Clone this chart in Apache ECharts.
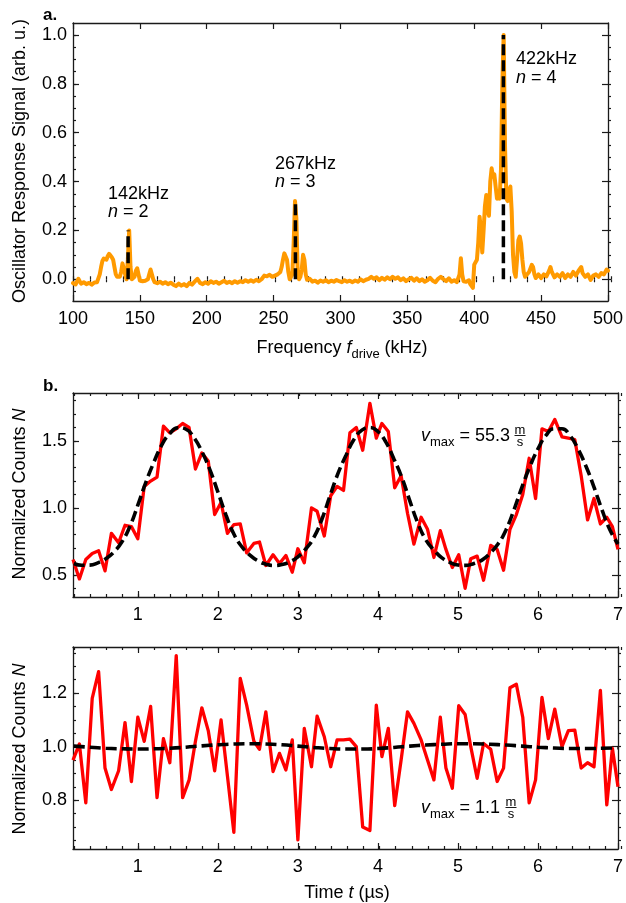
<!DOCTYPE html>
<html><head><meta charset="utf-8">
<script src="https://cdn.jsdelivr.net/npm/echarts@6/dist/echarts.min.js"></script>
<style>html,body{margin:0;padding:0;background:#fff}#c{width:626px;height:903px}</style>
</head><body><div id="c"></div>
<script>
const FONT = '"Liberation Sans", Arial, Helvetica, sans-serif';

// ---------- Panel a: oscillator response spectrum ----------
const freqKHz = [100,102,104,106,108,110,112,114,116,118,119,120,121,122,123,124,125,126,127,128,129,130,131,132,133,134,135,136,137,138,139,140,141,142,143,144,145,146,147,148,149,150,151,152,154,156,157,158,159,160,161,163,165,167,169,171,173,175,177,179,181,183,185,187,189,191,193,195,197,199,201,203,205,207,209,211,213,215,217,219,221,223,225,227,229,231,233,235,237,239,241,243,245,247,249,251,253,255,256,257,258,259,260,261,262,263,264,265,266,267,268,269,270,271,272,273,274,275,277,279,281,283,285,287,289,291,293,295,297,299,301,303,305,307,309,311,313,315,317,319,321,323,325,327,329,331,333,335,337,339,341,343,345,347,349,351,353,355,357,359,361,363,365,367,369,371,373,375,377,379,381,383,385,387,389,390,391,392,394,396,397,398,399,400,401,402,403,404,405,406,407,408,409,410,411,412,413,414,415,416,417,418,419,420,421,422,423,424,425,426,427,428,429,430,431,432,433,434,435,436,437,438,439,441,443,444,445,446,448,450,452,454,456,457,458,460,462,464,466,468,470,472,474,476,478,480,481,483,485,487,489,491,493,495,497,499,500];
const signal = [-0.016,-0.021,0.002,-0.018,-0.012,-0.020,-0.015,-0.022,-0.013,-0.012,-0.005,0.020,0.050,0.075,0.085,0.087,0.080,0.095,0.104,0.100,0.090,0.080,0.050,0.020,0.010,0.005,0.010,0.030,0.065,0.060,0.020,0.000,0.080,0.200,0.050,0.000,-0.005,0.010,0.035,0.045,0.020,-0.005,-0.012,-0.008,-0.006,0.000,0.020,0.040,0.035,0.000,-0.012,-0.016,-0.010,-0.018,-0.012,-0.020,-0.014,-0.022,-0.028,-0.018,-0.026,-0.020,-0.028,-0.015,-0.022,-0.010,0.002,-0.015,-0.020,-0.012,-0.018,-0.008,-0.015,-0.010,-0.018,-0.012,-0.006,-0.015,-0.010,-0.016,-0.008,-0.014,-0.008,-0.012,-0.004,-0.010,-0.004,-0.010,-0.002,-0.008,0.000,0.015,0.012,0.018,0.010,0.015,0.020,0.030,0.050,0.080,0.106,0.100,0.080,0.030,0.000,0.005,0.020,0.150,0.320,0.250,0.030,0.000,0.010,0.040,0.100,0.080,0.020,-0.002,0.002,-0.010,-0.006,-0.014,-0.005,-0.010,-0.004,-0.012,-0.006,-0.010,-0.003,-0.008,-0.012,-0.004,-0.010,-0.006,-0.012,-0.005,-0.010,0.000,-0.008,-0.002,0.002,0.010,0.002,0.008,-0.004,0.006,-0.002,0.008,0.000,0.010,0.002,0.008,-0.004,0.004,-0.008,0.000,0.006,-0.006,0.004,-0.008,0.000,-0.010,-0.004,0.006,-0.006,-0.012,0.002,0.010,0.000,-0.008,0.004,-0.010,-0.004,-0.012,0.020,0.086,0.020,-0.008,-0.010,-0.004,-0.020,-0.025,-0.035,0.060,0.065,0.080,0.150,0.256,0.200,0.110,0.200,0.300,0.345,0.280,0.260,0.400,0.454,0.420,0.430,0.380,0.330,0.360,0.330,0.450,0.800,1.000,0.550,0.330,0.320,0.360,0.380,0.280,0.100,0.030,0.010,0.080,0.160,0.175,0.147,0.080,0.030,0.010,0.012,0.030,0.059,0.050,0.020,0.005,0.020,0.005,0.020,0.012,0.035,0.050,0.030,0.008,0.020,0.010,0.025,0.005,0.020,0.010,0.030,0.015,0.035,0.050,0.025,0.010,0.020,-0.003,0.015,0.020,0.010,0.025,0.020,0.040,0.035];
const peakFreqs = [141.2, 266.3, 421.8];
const peakHeights = [0.20, 0.32, 1.00];
const peakLabels = ['142kHz', '267kHz', '422kHz'];
const peakOrders = ['2', '3', '4'];
const freqTicks = [100,150,200,250,300,350,400,450,500];
const signalTicks = [0.0,0.2,0.4,0.6,0.8,1.0];

// ---------- Panel b: normalized counts vs time ----------
const timeUs = [0.19,0.27,0.35,0.43,0.51,0.59,0.67,0.76,0.84,0.92,1.00,1.08,1.16,1.24,1.32,1.40,1.48,1.56,1.64,1.72,1.80,1.88,1.96,2.04,2.12,2.20,2.28,2.36,2.45,2.52,2.60,2.69,2.77,2.85,2.93,3.00,3.08,3.17,3.24,3.33,3.41,3.49,3.57,3.65,3.73,3.81,3.90,3.98,4.05,4.13,4.21,4.29,4.37,4.45,4.54,4.62,4.70,4.78,4.85,4.93,5.01,5.09,5.16,5.24,5.32,5.41,5.49,5.57,5.65,5.73,5.81,5.89,5.97,6.05,6.13,6.21,6.30,6.38,6.46,6.54,6.62,6.70,6.78,6.86,6.93,7.00];
const countsFast = [0.615,0.47,0.615,0.66,0.68,0.53,0.81,0.74,0.87,0.86,0.77,1.16,1.20,1.23,1.61,1.56,1.59,1.63,1.60,1.29,1.41,1.35,0.95,1.04,0.81,0.875,0.88,0.665,0.735,0.745,0.57,0.65,0.585,0.645,0.52,0.695,0.59,1.00,0.975,0.79,1.09,1.16,1.13,1.56,1.60,1.43,1.78,1.52,1.63,1.57,1.15,1.24,0.96,0.73,0.93,0.84,0.63,0.83,0.69,0.555,0.65,0.40,0.62,0.64,0.46,0.72,0.69,0.535,0.84,0.95,1.10,1.37,1.07,1.59,1.57,1.66,1.53,1.52,1.51,1.24,0.91,1.07,0.88,0.93,0.86,0.69];
const countsSlow = [0.95,1.01,0.79,1.18,1.28,0.92,0.84,0.91,1.09,0.87,1.11,1.02,1.15,0.81,1.03,0.94,1.34,0.81,0.875,1.02,1.145,1.06,0.91,1.10,0.89,0.68,1.255,1.155,1.02,0.99,1.13,0.907,0.975,0.913,1.025,0.652,1.068,0.925,1.114,1.037,0.925,1.025,1.025,1.028,1.0,0.70,0.687,1.155,0.963,1.068,0.78,0.95,1.13,1.087,1.025,0.95,0.876,1.11,0.92,0.845,1.153,1.12,1.0,0.882,1.012,0.99,0.87,0.92,1.22,1.233,1.11,0.79,0.876,1.184,1.03,1.14,1.0,1.06,1.062,0.92,0.94,0.925,1.21,0.783,0.994,0.85];
const fitTimeFast = [0.2,0.3,0.4,0.5,0.6,0.7,0.8,0.9,1.0,1.1,1.2,1.3,1.4,1.5,1.6,1.7,1.8,1.9,2.0,2.1,2.2,2.3,2.4,2.5,2.6,2.7,2.8,2.9,3.0,3.1,3.2,3.3,3.4,3.5,3.6,3.7,3.8,3.9,4.0,4.1,4.2,4.3,4.4,4.5,4.6,4.7,4.8,4.9,5.0,5.1,5.2,5.3,5.4,5.5,5.6,5.7,5.8,5.9,6.0,6.1,6.2,6.3,6.4,6.5,6.6,6.7,6.8,6.9,7.0];
const fitFast = [0.585,0.572,0.573,0.590,0.620,0.670,0.745,0.860,1.020,1.190,1.340,1.470,1.555,1.598,1.588,1.525,1.420,1.285,1.120,0.950,0.805,0.710,0.648,0.605,0.580,0.570,0.577,0.598,0.635,0.695,0.780,0.915,1.087,1.255,1.390,1.510,1.580,1.600,1.570,1.490,1.365,1.225,1.050,0.885,0.760,0.685,0.627,0.593,0.574,0.571,0.585,0.610,0.660,0.730,0.835,0.985,1.155,1.310,1.440,1.540,1.590,1.590,1.540,1.440,1.310,1.155,0.985,0.835,0.730];
const fitTimeSlow = [0.2,0.4,0.6,0.8,1.0,1.2,1.4,1.6,1.8,2.0,2.2,2.4,2.6,2.8,3.0,3.2,3.4,3.6,3.8,4.0,4.2,4.4,4.6,4.8,5.0,5.2,5.4,5.6,5.8,6.0,6.2,6.4,6.6,6.8,7.0];
const fitSlow = [1.002,0.998,0.994,0.992,0.991,0.992,0.994,0.998,1.003,1.007,1.010,1.011,1.010,1.007,1.002,0.997,0.993,0.991,0.991,0.993,0.997,1.002,1.006,1.009,1.011,1.011,1.009,1.006,1.002,0.998,0.995,0.993,0.993,0.994,0.996];
const timeTicks = [1,2,3,4,5,6,7];
const countsTicksFast = [0.5,1.0,1.5];
const countsTicksSlow = [0.8,1.0,1.2];

// ---------- helpers ----------
function stepValues(lo, hi, step) {
  const out = [];
  const start = Math.ceil(lo / step - 1e-9);
  for (let k = start; k * step <= hi + 1e-9; k++) out.push(+(k * step).toFixed(6));
  return out;
}
function pairs(xs, ys) { return xs.map((x, i) => [x, ys[i]]); }

const AXC = '#1a1a1a';
const panels = [
  { rect: {left: 73, top: 23, width: 538, height: 278}, x: [100, 500], y: [-0.089, 1.049],
    xMaj: freqTicks, xMinStep: 12.5, yMaj: signalTicks, yMinStep: 0.05, xFmt: v => String(v), yFmt: v => v.toFixed(1) },
  { rect: {left: 73, top: 393, width: 548, height: 204}, x: [0.19, 7.0], y: [0.335, 1.857],
    xMaj: timeTicks, xMinStep: 0.2, yMaj: countsTicksFast, yMinStep: 0.1, xFmt: v => String(v), yFmt: v => v.toFixed(1) },
  { rect: {left: 73, top: 647, width: 548, height: 202}, x: [0.19, 7.0], y: [0.618, 1.372],
    xMaj: timeTicks, xMinStep: 0.2, yMaj: countsTicksSlow, yMinStep: 0.05, xFmt: v => String(v), yFmt: v => v.toFixed(1) }
];

const grid = [], xAxis = [], yAxis = [];
panels.forEach((p, i) => {
  grid.push(Object.assign({}, p.rect));
  grid.push(Object.assign({}, p.rect));
  const gMain = 2 * i, gMinor = 2 * i + 1;
  const xMinor = stepValues(p.x[0], p.x[1], p.xMinStep);
  const yMinor = stepValues(p.y[0], p.y[1], p.yMinStep);
  const lineOn = {show: true, onZero: false, lineStyle: {color: AXC, width: 1.3}};
  const tickSty = {color: AXC, width: 1.2};
  const lbl = (vals, fmt, m) => ({show: true, customValues: vals, formatter: fmt, fontSize: 18, color: '#000', margin: m, fontFamily: FONT});
  const mk = (gi, pos, line, len, vals, label, mn, mx) => ({
    type: 'value', gridIndex: gi, position: pos, min: mn, max: mx,
    splitLine: {show: false}, axisLine: line ? lineOn : {show: false},
    axisTick: {show: true, inside: true, length: len, customValues: vals, lineStyle: tickSty},
    minorTick: {show: false},
    axisLabel: label || {show: false}
  });
  xAxis.push(mk(gMain, 'bottom', true, 6, p.xMaj, lbl(p.xMaj, p.xFmt, 9), p.x[0], p.x[1]));
  xAxis.push(mk(gMain, 'top', true, 6, p.xMaj, null, p.x[0], p.x[1]));
  xAxis.push(mk(gMinor, 'bottom', false, 3, xMinor, null, p.x[0], p.x[1]));
  xAxis.push(mk(gMinor, 'top', false, 3, xMinor, null, p.x[0], p.x[1]));
  yAxis.push(mk(gMain, 'left', true, 6, p.yMaj, lbl(p.yMaj, p.yFmt, 6), p.y[0], p.y[1]));
  yAxis.push(mk(gMain, 'right', true, 6, p.yMaj, null, p.y[0], p.y[1]));
  yAxis.push(mk(gMinor, 'left', false, 3, yMinor, null, p.y[0], p.y[1]));
  yAxis.push(mk(gMinor, 'right', false, 3, yMinor, null, p.y[0], p.y[1]));
});

const series = [];
series.push({ type: 'line', xAxisIndex: 0, yAxisIndex: 0, data: pairs(freqKHz, signal), showSymbol: false, symbol: 'none',
  lineStyle: {color: '#ff9a00', width: 4, join: 'round', cap: 'round'}, z: 2 });
peakFreqs.forEach((f, i) => {
  series.push({ type: 'line', xAxisIndex: 0, yAxisIndex: 0, data: [[f, 0], [f, peakHeights[i]]], showSymbol: false, symbol: 'none',
    lineStyle: {color: '#000', width: 3.5, type: [11, 5]}, z: 3 });
});
series.push({ type: 'line', xAxisIndex: 4, yAxisIndex: 4, data: pairs(timeUs, countsFast), showSymbol: false, symbol: 'none',
  lineStyle: {color: '#ff0000', width: 3.3, join: 'round'}, z: 2 });
series.push({ type: 'line', xAxisIndex: 4, yAxisIndex: 4, data: pairs(fitTimeFast, fitFast), showSymbol: false, symbol: 'none', smooth: true,
  lineStyle: {color: '#000', width: 3.6, type: [11, 5]}, z: 3 });
series.push({ type: 'line', xAxisIndex: 8, yAxisIndex: 8, data: pairs(timeUs, countsSlow), showSymbol: false, symbol: 'none',
  lineStyle: {color: '#ff0000', width: 3.3, join: 'round'}, z: 2 });
series.push({ type: 'line', xAxisIndex: 8, yAxisIndex: 8, data: pairs(fitTimeSlow, fitSlow), showSymbol: false, symbol: 'none', smooth: true,
  lineStyle: {color: '#000', width: 3.6, type: [11, 5]}, z: 3 });

function txt(x, y, text, opt) {
  opt = opt || {};
  const st = Object.assign({
    text: text, fontSize: 18, fontFamily: FONT, fill: '#000',
    align: opt.align || 'left', textAlign: opt.align || 'left',
    verticalAlign: 'middle', textVerticalAlign: 'middle'
  }, opt.style || {});
  return { type: 'text', x: x, y: y, rotation: opt.rotation || 0, style: st, z: 10 };
}
const richBase = {
  n: {fontSize: 18, fontFamily: FONT, lineHeight: 26},
  i: {fontSize: 18, fontFamily: FONT, fontStyle: 'italic', lineHeight: 26},
  s: {fontSize: 13, fontFamily: FONT, lineHeight: 13, verticalAlign: 'bottom'}
};
const graphics = [
  txt(43, 15, 'a.', {style: {fontWeight: 'bold', fontSize: 17}}),
  txt(43, 386, 'b.', {style: {fontWeight: 'bold', fontSize: 17}}),
  txt(20, 161, 'Oscillator Response Signal (arb. u.)', {align: 'center', rotation: Math.PI / 2}),
  txt(20, 494, '{n|Normalized Counts }{i|N}', {align: 'center', rotation: Math.PI / 2, style: {rich: richBase}}),
  txt(20, 749, '{n|Normalized Counts }{i|N}', {align: 'center', rotation: Math.PI / 2, style: {rich: richBase}}),
  txt(342, 348, '{n|Frequency }{i|f}{s|drive}{n| (kHz)}', {align: 'center', style: {rich: richBase}}),
  txt(347, 893, '{n|Time }{i|t}{n| (µs)}', {align: 'center', style: {rich: richBase}})
];
const annPos = [[108, 194, 212], [275, 164, 182], [516, 59, 78]];
peakLabels.forEach((lab, i) => {
  const a = annPos[i];
  graphics.push(txt(a[0], a[1], lab));
  graphics.push(txt(a[0], a[2], '{i|n}{n| = ' + peakOrders[i] + '}', {style: {rich: richBase}}));
});
function vmax(x, y, num, fracX) {
  graphics.push(txt(x, y, '{i|v}{s|max}{n| = ' + num + '}', {style: {rich: richBase}}));
  graphics.push(txt(fracX, y - 6, 'm', {align: 'center', style: {fontSize: 13}}));
  graphics.push(txt(fracX, y + 6, 's', {align: 'center', style: {fontSize: 13}}));
  graphics.push({type: 'line', shape: {x1: fracX - 5.5, y1: y - 0.5, x2: fracX + 5.5, y2: y - 0.5}, style: {stroke: '#000', lineWidth: 0.9}, z: 10});
}
vmax(421, 436, '55.3', 520);
vmax(421, 808, '1.1', 511);

const chart = echarts.init(document.getElementById('c'), null, {renderer: 'canvas'});
chart.setOption({
  animation: false,
  backgroundColor: '#fff',
  grid: grid, xAxis: xAxis, yAxis: yAxis, series: series,
  graphic: graphics
});
</script></body></html>
